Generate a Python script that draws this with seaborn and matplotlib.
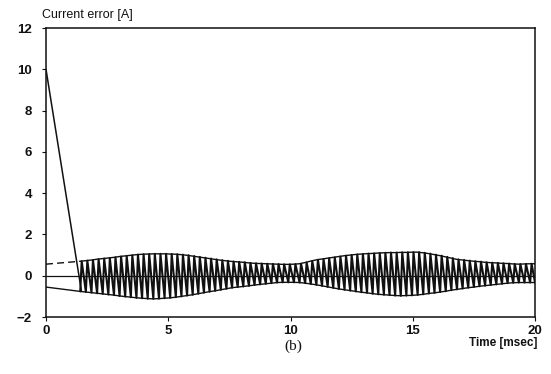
import matplotlib
matplotlib.use("Agg")
import matplotlib.pyplot as plt
import numpy as np
import pandas as pd
import seaborn as sns

# initial transient (A) before the hysteresis band is reached
decay_time = [0.0, 0.08, 1.45]
decay_value = [10.0, 9.4, -0.76]

# band boundaries before switching starts
band_time = [0.0, 1.40]
band_upper = [0.56, 0.70]
band_lower = [-0.55, -0.76]

# switching: one peak / trough per cycle
t_start = 1.40
period = 0.23
peaks = [0.70, 0.73, 0.76, 0.80, 0.83, 0.86, 0.89, 0.93, 0.96, 0.99,
         1.02, 1.04, 1.05, 1.06, 1.06, 1.06, 1.05, 1.04, 1.02, 0.99,
         0.95, 0.91, 0.87, 0.83, 0.79, 0.75, 0.72, 0.69, 0.67, 0.65,
         0.62, 0.60, 0.59, 0.58, 0.57, 0.56, 0.55, 0.55, 0.56, 0.58,
         0.64, 0.71, 0.77, 0.81, 0.85, 0.89, 0.93, 0.97, 1.00, 1.03,
         1.05, 1.07, 1.08, 1.10, 1.11, 1.12, 1.12, 1.13, 1.13, 1.14,
         1.14, 1.11, 1.07, 1.02, 0.97, 0.91, 0.85, 0.79, 0.76, 0.73,
         0.70, 0.68, 0.65, 0.63, 0.62, 0.60, 0.59, 0.57, 0.56, 0.57,
         0.58]
troughs = [-0.76, -0.79, -0.82, -0.85, -0.88, -0.91, -0.94, -0.98, -1.01, -1.04,
           -1.07, -1.09, -1.11, -1.12, -1.11, -1.09, -1.07, -1.04, -1.00, -0.96,
           -0.92, -0.87, -0.82, -0.77, -0.73, -0.68, -0.63, -0.58, -0.55, -0.52,
           -0.49, -0.45, -0.42, -0.39, -0.36, -0.33, -0.32, -0.32, -0.32, -0.33,
           -0.36, -0.40, -0.44, -0.49, -0.54, -0.59, -0.64, -0.68, -0.72, -0.76,
           -0.80, -0.83, -0.87, -0.90, -0.92, -0.94, -0.96, -0.97, -0.96, -0.95,
           -0.93, -0.90, -0.86, -0.83, -0.79, -0.75, -0.70, -0.66, -0.62, -0.58,
           -0.55, -0.51, -0.48, -0.45, -0.42, -0.39, -0.36, -0.34, -0.33, -0.33,
           -0.33]
t_end = 20.0
end_value = -0.33

xticks = [0, 5, 10, 15, 20]
yticks = [-2, 0, 2, 4, 6, 8, 10, 12]

# build the switching trace: fast rise to the peak, slower fall to next trough
tt, vv = [], []
for k in range(len(peaks)):
    t0 = t_start + k * period
    tt += [t0, t0 + 0.06]
    vv += [troughs[k], peaks[k]]
tt.append(t_end)
vv.append(end_value)
trace = pd.DataFrame({"t": tt, "v": vv})
decay = pd.DataFrame({"t": decay_time, "v": decay_value})

cyc_t = [t_start + k * period for k in range(len(peaks))] + [t_end]
env = pd.DataFrame({"t": cyc_t, "hi": peaks + [peaks[-1]], "lo": troughs + [end_value]})

sns.set_style("ticks")
plt.rcParams["font.family"] = ["Liberation Sans", "DejaVu Sans"]

fig = plt.figure(figsize=(5.51, 3.74), dpi=100)
ax = fig.add_axes([0.0835, 0.1524, 0.8875, 0.7727])

ink = "#111111"
kw = dict(estimator=None, sort=False, color=ink, ax=ax, legend=False)
sns.lineplot(data=decay, x="t", y="v", lw=1.1, **kw)
sns.lineplot(data=trace, x="t", y="v", lw=1.5, **kw)
sns.lineplot(data=env, x="t", y="hi", lw=1.0, **kw)
sns.lineplot(data=env, x="t", y="lo", lw=1.0, **kw)
ax.plot(band_time, band_upper, color=ink, lw=1.0, ls=(0, (5, 3)))
ax.plot(band_time, band_lower, color=ink, lw=1.0)
ax.axhline(0, color=ink, lw=0.9, zorder=1)

ax.set_xlim(0, 20)
ax.set_ylim(-2, 12)
ax.set_xticks(xticks)
ax.set_yticks(yticks)
ax.set_xlabel("")
ax.set_ylabel("")
for s in ax.spines.values():
    s.set_color(ink)
    s.set_linewidth(1.1)
ax.tick_params(axis="both", direction="out", length=3, width=0.8, color=ink,
               labelsize=9.5, labelcolor=ink)
ax.tick_params(axis="x", pad=3)
ax.tick_params(axis="y", pad=7)
for lab in ax.get_xticklabels() + ax.get_yticklabels():
    lab.set_fontweight("bold")

fig.text(42 / 551, 1 - 15 / 374, "Current error [A]", fontsize=9, ha="left", va="center",
         color=ink)
fig.text(537 / 551, 1 - 343 / 374, "Time [msec]", fontsize=8.5, fontweight="bold",
         ha="right", va="center", color=ink)
fig.text(293 / 551, 1 - 346 / 374, "(b)", fontsize=11, ha="center", va="center",
         family=["Liberation Serif", "DejaVu Serif"], color=ink)

fig.savefig("out.png", dpi=100)
